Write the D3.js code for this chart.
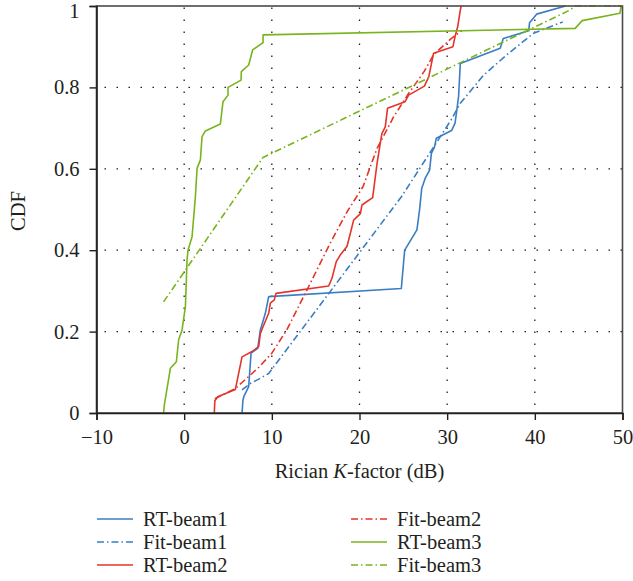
<!DOCTYPE html>
<html>
<head>
<meta charset="utf-8">
<script src="https://cdn.jsdelivr.net/npm/d3@7"></script>
<style>
  html, body { margin: 0; padding: 0; background: #fff; }
  svg { display: block; }
  text { font-family: "Liberation Serif", "DejaVu Serif", serif; fill: #231f20; }
</style>
</head>
<body>
<div id="chart"></div>
<script>
// ---- data (K-factor in dB, CDF) ----
const xTicks = [-10, 0, 10, 20, 30, 40, 50];
const yTicks = [0, 0.2, 0.4, 0.6, 0.8, 1];
const seriesNames = ["RT-beam1", "Fit-beam1", "RT-beam2", "Fit-beam2", "RT-beam3", "Fit-beam3"];

const rtBeam1 = [[6.6,0],[6.7,0.03],[6.8,0.04],[7.36,0.065],[7.47,0.098],[7.63,0.147],[8.39,0.159],[8.69,0.204],[9.26,0.245],[9.64,0.286],[24.77,0.306],[25.15,0.40],[25.4,0.409],[26.55,0.45],[26.85,0.499],[27.1,0.552],[27.5,0.577],[28.0,0.597],[28.2,0.638],[28.56,0.654],[28.76,0.675],[30.5,0.694],[30.9,0.712],[31.1,0.744],[31.3,0.777],[31.5,0.859],[36.05,0.896],[36.4,0.92],[39.3,0.939],[39.4,0.959],[40.2,0.98],[43.5,1.0]];
const fitBeam1 = [[6.6,0.057],[7.5,0.072],[8.4,0.082],[9.64,0.097],[24.8,0.532],[25.2,0.545],[27.0,0.605],[28.8,0.665],[30.5,0.722],[31.5,0.761],[34.15,0.83],[36.8,0.88],[39.85,0.933],[43.2,0.961]];
const rtBeam2 = [[3.44,0],[3.5,0.03],[3.82,0.04],[5.84,0.058],[6.6,0.138],[7.74,0.151],[8.5,0.163],[8.69,0.196],[9.64,0.245],[9.83,0.27],[10.28,0.278],[10.48,0.294],[16.48,0.312],[16.86,0.331],[17.35,0.372],[17.8,0.388],[18.57,0.409],[18.95,0.441],[19.33,0.474],[20.1,0.49],[20.28,0.511],[21.5,0.529],[22.0,0.613],[22.37,0.663],[22.56,0.687],[22.94,0.703],[23.2,0.749],[25.2,0.765],[25.6,0.781],[27.4,0.803],[27.9,0.826],[28.45,0.884],[30.66,0.9],[30.9,0.925],[31.2,0.949],[31.5,0.99],[31.6,1.0]];
const fitBeam2 = [[3.5,0.035],[5.84,0.06],[6.6,0.075],[8.5,0.112],[10.0,0.147],[11.7,0.204],[14.0,0.302],[16.6,0.415],[18.6,0.495],[20.4,0.556],[22.0,0.65],[23.9,0.728],[25.6,0.785],[27.4,0.84],[28.45,0.88],[30.35,0.918],[31.7,0.94]];
const rtBeam3 = [[-2.35,0],[-2.26,0.02],[-1.57,0.11],[-0.89,0.126],[-0.63,0.18],[-0.24,0.204],[0.14,0.261],[0.33,0.376],[0.44,0.40],[0.9,0.433],[1.28,0.531],[1.47,0.601],[1.85,0.622],[2.04,0.679],[2.42,0.693],[4.13,0.71],[4.43,0.765],[5.0,0.781],[5.0,0.80],[6.49,0.818],[6.52,0.839],[7.36,0.855],[7.81,0.892],[9.0,0.91],[9.0,0.929],[44.6,0.945],[45.4,0.964],[49.7,0.982],[49.85,1.0]];
const fitBeam3 = [[-2.35,0.273],[9.0,0.628],[44.0,0.99],[44.6,1.0],[49.85,1.0]];

const seriesData = [rtBeam1, fitBeam1, rtBeam2, fitBeam2, rtBeam3, fitBeam3];
const seriesColors = ["#3b7dc4", "#3b7dc4", "#e5332a", "#e5332a", "#78b41e", "#78b41e"];
const seriesDashed = [false, true, false, true, false, true];

// ---- layout ----
const W = 633, H = 581;
const m = { left: 96.5, top: 6, right: 622.5, bottom: 413 };
const dashDot = "7,3,1.5,3";
const FS = 20.5;

const svg = d3.select("#chart").append("svg").attr("width", W).attr("height", H);

const x = d3.scaleLinear().domain([-10, 50]).range([m.left, m.right]);
const y = d3.scaleLinear().domain([0, 1]).range([m.bottom, m.top]);

// gridlines
const grid = svg.append("g");
grid.selectAll("line.gx").data(xTicks.slice(1, -1)).join("line")
  .attr("x1", d => x(d)).attr("x2", d => x(d))
  .attr("y1", m.bottom).attr("y2", m.top)
  .attr("stroke", "#231f20").attr("stroke-width", 1.3)
  .attr("stroke-dasharray", "1.5,10.5").attr("stroke-dashoffset", 4);
grid.selectAll("line.gy").data(yTicks.slice(1, -1)).join("line")
  .attr("x1", m.left).attr("x2", m.right)
  .attr("y1", d => y(d)).attr("y2", d => y(d))
  .attr("stroke", "#231f20").attr("stroke-width", 1.3)
  .attr("stroke-dasharray", "1.5,10.5").attr("stroke-dashoffset", -8);

// data lines
svg.append("clipPath").attr("id", "clip").append("rect")
  .attr("x", m.left).attr("y", m.top - 1).attr("width", m.right - m.left).attr("height", m.bottom - m.top + 1);
const line = d3.line().x(d => x(d[0])).y(d => y(d[1]));
const lines = svg.append("g").attr("clip-path", "url(#clip)");
seriesData.forEach((s, i) => {
  lines.append("path").attr("d", line(s))
    .attr("fill", "none").attr("stroke", seriesColors[i]).attr("stroke-width", 1.6)
    .attr("stroke-linejoin", "round")
    .attr("stroke-dasharray", seriesDashed[i] ? dashDot : null);
});

// frame
svg.append("rect").attr("x", m.left).attr("y", m.top)
  .attr("width", m.right - m.left).attr("height", m.bottom - m.top)
  .attr("fill", "none").attr("stroke", "#4a4a4a").attr("stroke-width", 1.6);

// axes
const fmtX = d => d < 0 ? "\u2212" + Math.abs(d) : String(d);
const xAxis = svg.append("g").attr("transform", `translate(0,${m.bottom})`)
  .call(d3.axisBottom(x).tickValues(xTicks).tickFormat(fmtX).tickSize(7).tickPadding(9));
const yAxis = svg.append("g").attr("transform", `translate(${m.left},0)`)
  .call(d3.axisLeft(y).tickValues(yTicks).tickFormat(d => String(d)).tickSize(7).tickPadding(10));
[xAxis, yAxis].forEach(a => {
  a.select(".domain").attr("stroke", "#231f20").attr("stroke-width", 1.6);
  a.selectAll(".tick line").attr("stroke", "#231f20").attr("stroke-width", 1.4);
  a.selectAll(".tick text").attr("font-family", "Liberation Serif, serif").attr("font-size", FS).attr("fill", "#231f20");
});
// keep the top label inside the picture
yAxis.selectAll(".tick text").filter(d => d === 1).attr("dy", "0.55em");

// axis titles
const xt = svg.append("text").attr("x", x(20)).attr("y", 478).attr("text-anchor", "middle").attr("font-size", FS);
xt.append("tspan").text("Rician ");
xt.append("tspan").attr("font-style", "italic").text("K");
xt.append("tspan").text("-factor (dB)");
svg.append("text").attr("transform", "translate(25,211) rotate(-90)")
  .attr("text-anchor", "middle").attr("font-size", FS).text("CDF");

// legend
const legX = [97, 351];
const legY = [519, 542, 565];
const leg = svg.append("g");
seriesNames.forEach((n, i) => {
  const col = Math.floor(i / 3), row = i % 3;
  const g = leg.append("g").attr("transform", `translate(${legX[col]},${legY[row]})`);
  g.append("line").attr("x1", 0).attr("x2", 36).attr("y1", 0).attr("y2", 0)
    .attr("stroke", seriesColors[i]).attr("stroke-width", 1.6)
    .attr("stroke-dasharray", seriesDashed[i] ? dashDot : null);
  g.append("text").attr("x", 46).attr("y", 0).attr("dy", "0.35em").attr("font-size", FS).text(n);
});
</script>
</body>
</html>
